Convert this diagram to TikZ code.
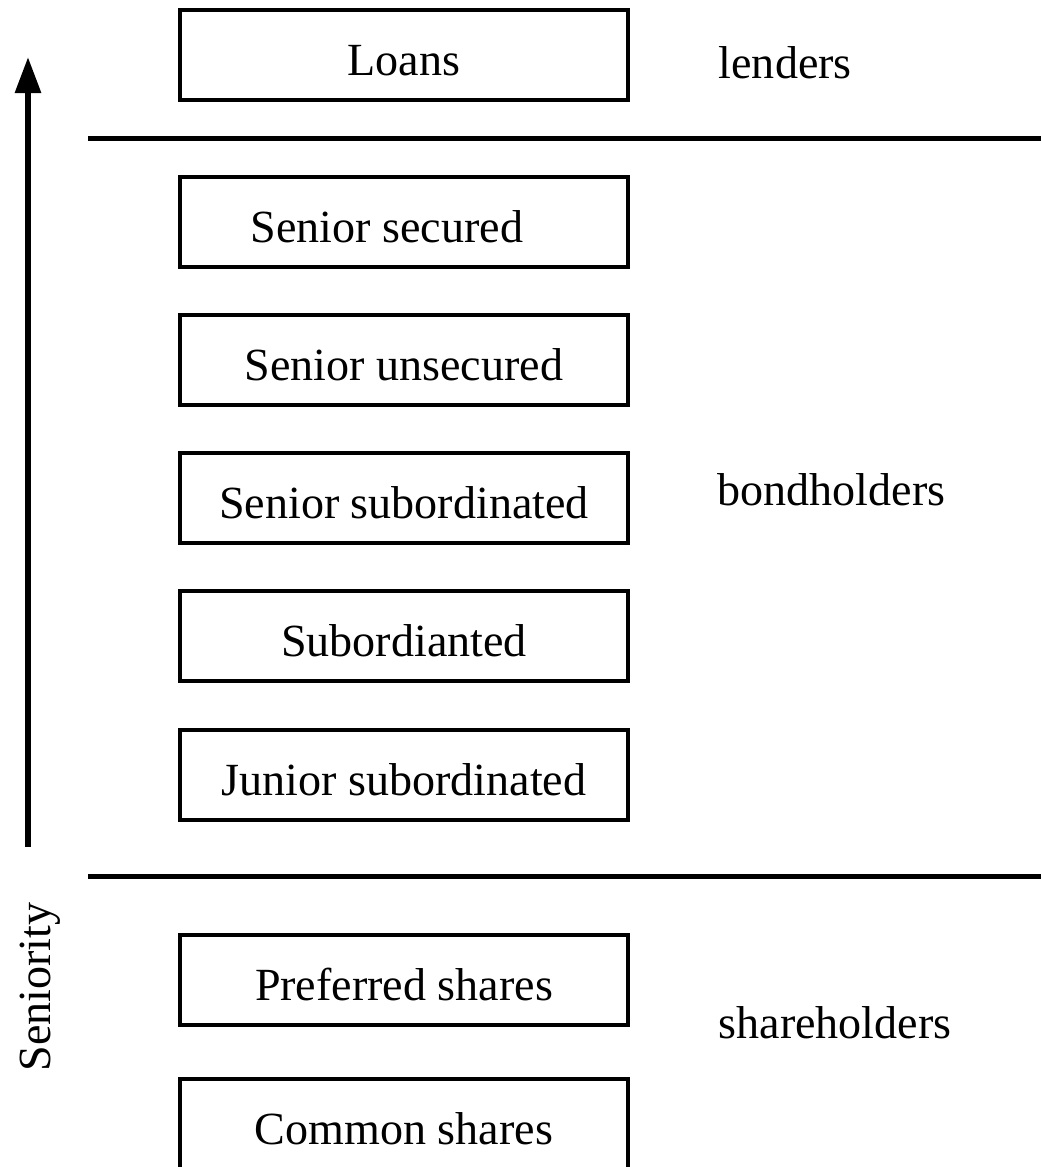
\documentclass[tikz,border=0pt]{standalone}
\usepackage{fontspec}
\setmainfont{Liberation Serif}
\usetikzlibrary{arrows.meta}

\begin{document}
\begin{tikzpicture}[x=0.01cm, y=-0.01cm,
	tramo/.style={draw, line width=1.15pt, minimum width=4.48cm, minimum height=0.9cm,
		inner sep=0pt, text height=0.4cm, text depth=0pt, font=\fontsize{13.1pt}{15pt}\selectfont},
	grupo/.style={anchor=base west, inner sep=0pt, font=\fontsize{13.1pt}{15pt}\selectfont},
	divisor/.style={line width=1.42pt}]
	% Marco de la figura
	\useasboundingbox (0,0) rectangle (1041,1167);

	% Flecha de prelacion
	\coordinate (flecha-ini) at (28,847);
	\coordinate (flecha-fin) at (28,57);
	\draw[line width=1.7pt, -{Triangle[length=0.36cm, width=0.25cm]}] (flecha-ini) -- (flecha-fin);
	\node[grupo, rotate=90] (seniority) at (50,1072) {Seniority};

	% Lineas que separan los grupos
	\coordinate (corte1-w) at (88,139);
	\coordinate (corte1-e) at (1041,139);
	\coordinate (corte2-w) at (88,876);
	\coordinate (corte2-e) at (1041,876);
	\draw[divisor] (corte1-w) -- (corte1-e);
	\draw[divisor] (corte2-w) -- (corte2-e);

	% Prestamos
	\node[tramo] (loans) at (404,55) {Loans};
	\node[grupo] (lenders) at (718,79) {lenders};

	% Bonos
	\node[tramo] (sensec) at (404,222) {Senior secured\kern0.34cm};
	\node[tramo] (senunsec) at (404,360) {Senior unsecured};
	\node[tramo] (sensub) at (404,498) {Senior subordinated};
	\node[tramo] (sub) at (404,636) {Subordianted};
	\node[tramo] (junsub) at (404,775) {Junior subordinated};
	\node[grupo] (bondholders) at (717,505) {bondholders};

	% Acciones
	\node[tramo] (pref) at (404,980) {Preferred shares};
	\node[tramo] (common) at (404,1124) {Common shares};
	\node[grupo] (shareholders) at (718,1038) {shareholders};
\end{tikzpicture}
\end{document}
